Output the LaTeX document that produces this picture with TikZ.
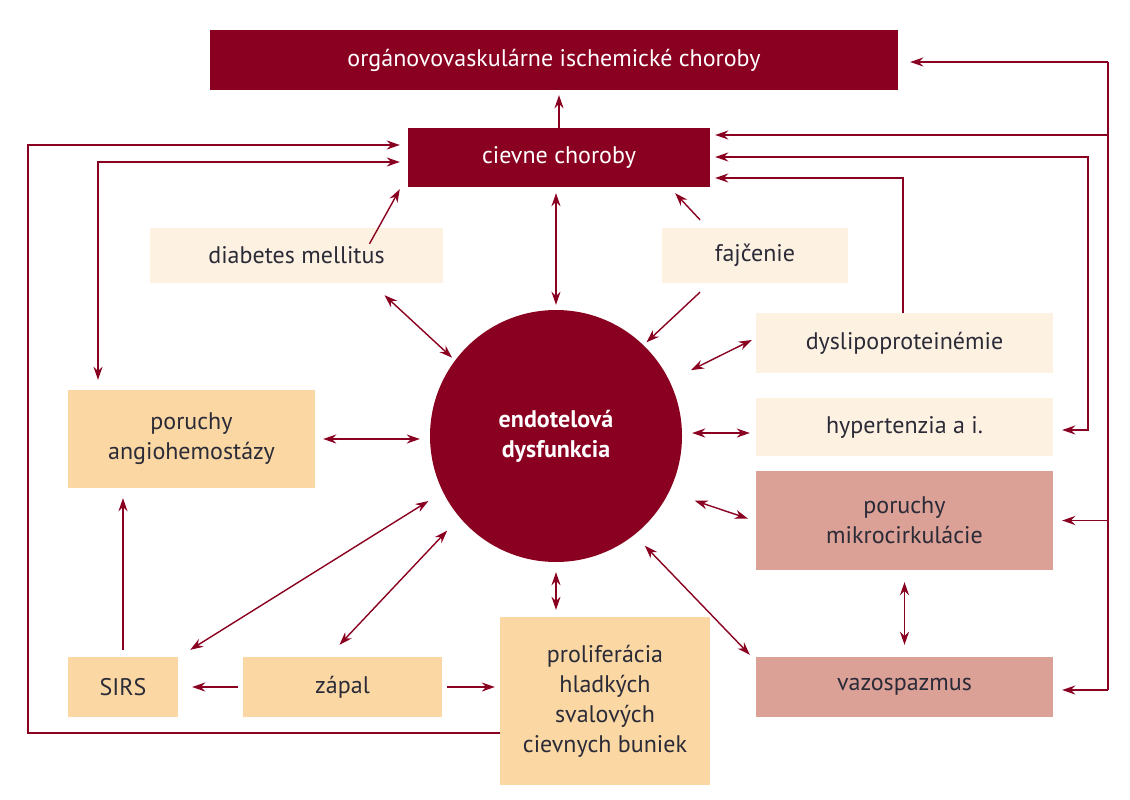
\documentclass[tikz,border=0pt]{standalone}
\usepackage{fontspec}
\setmainfont{PT Sans}
\usetikzlibrary{arrows.meta}
\definecolor{dred}{HTML}{8A0020}
\definecolor{lbeige}{HTML}{FDF1E1}
\definecolor{obeige}{HTML}{FAD7A3}
\definecolor{rosy}{HTML}{DBA096}
\definecolor{txt}{HTML}{2B2B38}
\tikzset{
  box/.style={rectangle, inner sep=0pt, align=center, text=txt, font=\fontsize{24}{30}\selectfont},
  darkbox/.style={box, fill=dred, text=white},
  lbox/.style={box, fill=lbeige},
  obox/.style={box, fill=obeige},
  rbox/.style={box, fill=rosy},
  conn/.style={draw=dred, line width=1.4pt, -{Stealth[length=13pt,width=9pt]}},
  dconn/.style={draw=dred, line width=1.4pt, {Stealth[length=13pt,width=9pt]}-{Stealth[length=13pt,width=9pt]}},
  plain/.style={draw=dred, line width=1.4pt},
}
\begin{document}
\begin{tikzpicture}[x=1pt,y=-1pt]
\useasboundingbox (0,0) rectangle (1130,800);
\node[darkbox, minimum width=688, minimum height=60] (org) at (554,60) {orgánovovaskulárne ischemické choroby};
\node[darkbox, minimum width=302, minimum height=59] (ciev) at (559,157.5) {cievne choroby};
\node[lbox, minimum width=293, minimum height=55] (diab) at (296.5,255.5) {diabetes mellitus};
\node[lbox, minimum width=186, minimum height=55] (fajc) at (755,255.5) {fajčenie};
\node[lbox, minimum width=297, minimum height=60] (dys) at (904.5,343) {dyslipoproteinémie};
\node[lbox, minimum width=297, minimum height=58] (hyp) at (904.5,427) {hypertenzia a i.};
\node[rbox, minimum width=297, minimum height=99] (mik) at (904.5,520.5) {poruchy\\mikrocirkulácie};
\node[rbox, minimum width=297, minimum height=60] (vaz) at (904.5,687) {vazospazmus};
\node[obox, minimum width=247, minimum height=98] (ang) at (191.5,439) {poruchy\\angiohemostázy};
\node[obox, minimum width=110, minimum height=60] (sirs) at (123,687) {SIRS};
\node[obox, minimum width=199, minimum height=60] (zap) at (342.5,687) {zápal};
\node[obox, minimum width=210, minimum height=168] (prol) at (605,701) {proliferácia\\hladkých\\svalových\\cievnych buniek};
\node[circle, fill=dred, minimum size=252, inner sep=0pt, align=center, text=white, font=\fontsize{24}{30}\selectfont\bfseries] (circ) at (556,436) {endotelová\\dysfunkcia};

% right bus
\coordinate (r1) at (1108,62);
\coordinate (r2) at (1108,690);
\draw[plain] (r1) -- (r2);
\draw[conn] (r1) -- ([xshift=12pt]org.east |- r1);
\draw[conn] (r1 |- 0,135) -- ([xshift=5pt]ciev.east |- 0,135);
\draw[conn] (r2 |- mik.east) -- ([xshift=9pt]mik.east);
\draw[conn] (r2) -- ([xshift=9pt]vaz.east |- r2);
\coordinate (h1) at (1088,157);
\coordinate (h2) at (1088,430);
\draw[dconn] ([xshift=5pt]ciev.east |- h1) -- (h1) -- (h2) -- ([xshift=9pt]hyp.east |- h2);
\coordinate (d1) at (903,178);
\draw[conn] (dys.north -| d1) -- (d1) -- ([xshift=5pt]ciev.east |- d1);
% left
\coordinate (l1) at (28,733);
\coordinate (l2) at (28,145);
\draw[conn] (prol.west |- l1) -- (l1) -- (l2) -- ([xshift=-8pt]ciev.west |- l2);
\coordinate (l3) at (98,162);
\draw[dconn] ([xshift=-8pt]ciev.west |- l3) -- (l3) -- ([yshift=10pt]ang.north -| l3);
% vertical
\draw[conn] ([yshift=-3pt]ciev.north) -- ([yshift=-5pt]org.south -| ciev.north);
\draw[dconn] ([yshift=-6pt]ciev.south -| circ.north) -- ([yshift=5pt]circ.north);
\draw[dconn] ([yshift=-10pt]circ.south) -- ([yshift=7pt]prol.north -| circ.south);
\draw[dconn] ([yshift=-12pt]mik.south) -- ([yshift=12pt]vaz.north);
% diagonal
\draw[conn] ([xshift=73pt,yshift=-16pt]diab.north) -- ([xshift=-8pt,yshift=-2pt]ciev.south west);
\draw[conn] ([xshift=-55pt,yshift=8pt]fajc.north) -- ([xshift=-35pt,yshift=-6pt]ciev.south east);
\draw[dconn] ([xshift=88pt,yshift=-12pt]diab.south) -- ([shift={(143:4pt)}]circ.143);
\draw[conn] ([xshift=-55pt,yshift=-9pt]fajc.south) -- ([shift={(46:4pt)}]circ.46);
\draw[dconn] ([shift={(26:24pt)}]circ.26) -- ([xshift=-4pt,yshift=3pt]dys.west);
\draw[dconn] ([xshift=10pt,yshift=3pt]circ.east) -- ([xshift=-6pt,yshift=-6pt]hyp.west);
\draw[dconn] ([shift={(-25:27pt)}]circ.-25) -- ([xshift=-8pt,yshift=2pt]mik.west);
\draw[dconn] ([shift={(-51:15pt)}]circ.-51) -- ([xshift=-6pt,yshift=2pt]vaz.north west);
\draw[dconn] ([shift={(207:17pt)}]circ.207) -- ([xshift=12pt,yshift=7pt]sirs.north east);
\draw[dconn] ([shift={(221:18pt)}]circ.221) -- ([xshift=-3pt,yshift=12pt]zap.north);
\draw[dconn] ([xshift=-10pt]circ.west |- ang.east) -- ([xshift=8pt]ang.east);
% bottom
\draw[conn] ([xshift=-5pt]zap.west) -- ([xshift=14pt]sirs.east);
\draw[conn] ([xshift=5pt]zap.east) -- ([xshift=-5pt]prol.west |- zap.east);
\draw[conn] ([yshift=7pt]sirs.north) -- ([yshift=-10pt]ang.south -| sirs.north);
\end{tikzpicture}
\end{document}
